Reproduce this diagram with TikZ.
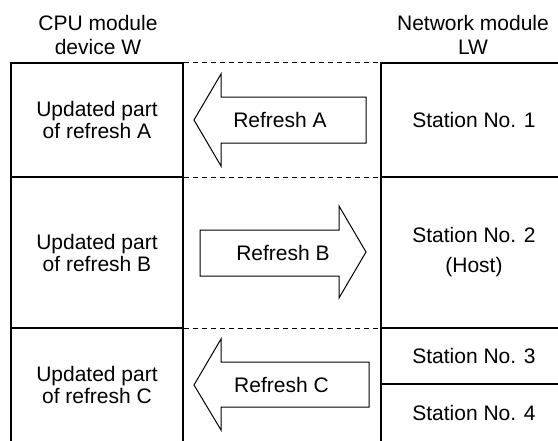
\documentclass[tikz,border=0pt]{standalone}
\usepackage{fontspec}
\setmainfont{Liberation Sans}
\begin{document}
\begin{tikzpicture}[x=1pt,y=-1pt,
  txt/.style={inner sep=0pt,align=center,font=\fontsize{21}{22}\selectfont},
  cell/.style={txt,draw,line width=1.3pt},
  hdr/.style={inner sep=0pt,align=center,font=\fontsize{21}{24}\selectfont},
  sep/.style={line width=1pt,dash pattern=on 5pt off 4pt},
  bigarrow/.style={draw,line width=1pt,line join=miter}]
\useasboundingbox (0,0) rectangle (558,440);
\clip (0,0) rectangle (558,440);
% headers
\node[hdr] (hcpu) at (98,34.5) {CPU module\\device W};
\node[hdr] (hnet) at (473,34.5) {Network module\\LW};
% CPU module cells
\node[cell,minimum width=172pt,minimum height=114pt] (cpuA) at (97,120) {Updated part\\of refresh A};
\node[cell,minimum width=172pt,minimum height=151pt] (cpuB) at (97,252.5) {Updated part\\of refresh B};
\node[cell,minimum width=172pt,minimum height=114pt] (cpuC) at (97,385) {Updated part\\of refresh C};
% Network module cells
\node[cell,minimum width=186pt,minimum height=114pt] (st1) at (474,120) {Station No. 1};
\node[cell,minimum width=186pt,minimum height=151pt] (st2) at (474,252.5) {Station No. 2\\[8pt](Host)};
\node[cell,minimum width=186pt,minimum height=56pt] (st3) at (474,356) {Station No. 3};
\node[cell,minimum width=186pt,minimum height=58pt] (st4) at (474,413) {Station No. 4};
% dashed separators
\draw[sep] (cpuA.north east) -- (st1.north west);
\draw[sep] (cpuA.south east) -- (st1.south west);
\draw[sep] (cpuB.south east) -- (st2.south west);
% arrows
\draw[bigarrow] (194,120) -- (221,74) -- (221,97) -- (366,97) -- (366,143) -- (221,143) -- (221,166) -- cycle;
\node[txt] (refA) at (280,120) {Refresh A};
\draw[bigarrow] (200,230) -- (339,230) -- (339,206) -- (366,252) -- (339,298) -- (339,276) -- (200,276) -- cycle;
\node[txt] (refB) at (283,253) {Refresh B};
\draw[bigarrow] (194,385) -- (221,339) -- (221,362) -- (369,362) -- (369,407) -- (221,407) -- (221,430) -- cycle;
\node[txt] (refC) at (281.5,385) {Refresh C};
\end{tikzpicture}
\end{document}
